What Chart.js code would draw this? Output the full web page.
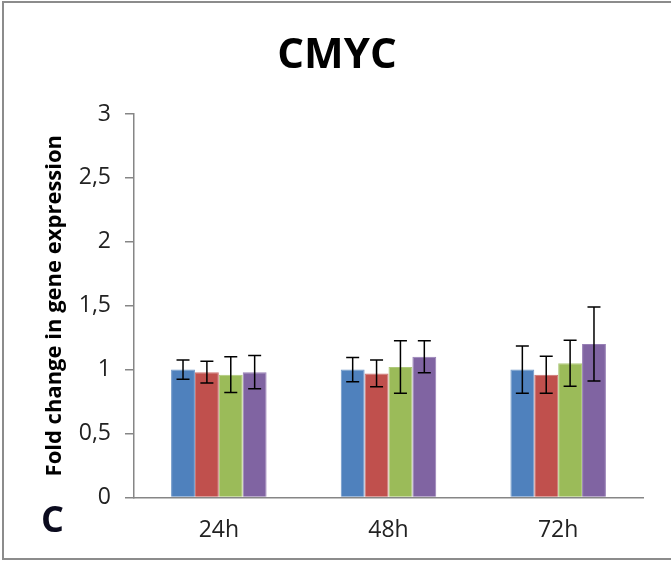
<!DOCTYPE html>
<html>
<head>
<meta charset="utf-8">
<script src="https://cdn.jsdelivr.net/npm/chart.js@4"></script>
<style>
  html, body { margin: 0; padding: 0; background: #fff; }
  #wrap { position: relative; width: 671px; height: 564px; overflow: hidden; }
  #frame { position: absolute; left: 2px; top: 1px; width: 690px; height: 559px; border: 2px solid #8c8c8c; box-sizing: border-box; }
  canvas { position: absolute; left: 0; top: 0; }
  #panel { position: absolute; left: 41px; top: 501px; font: bold 36px "Open Sans", sans-serif; color: #0b0b1e; line-height: 1; }
</style>
</head>
<body>
<div id="wrap">
  <div id="frame"></div>
  <canvas id="c" width="671" height="564"></canvas>
  <div id="panel">C</div>
</div>
<script>
const categories = ["24h", "48h", "72h"];
const seriesNames = ["Series 1", "Series 2", "Series 3", "Series 4"];
const series1 = [1.00, 1.00, 1.00];
const series2 = [0.98, 0.97, 0.96];
const series3 = [0.96, 1.02, 1.05];
const series4 = [0.98, 1.10, 1.20];
const err1 = [0.075, 0.095, 0.185];
const err2 = [0.085, 0.105, 0.145];
const err3 = [0.14, 0.205, 0.18];
const err4 = [0.13, 0.125, 0.29];
const yTicks = [0, 0.5, 1, 1.5, 2, 2.5, 3];

const colors = ["#4F81BD", "#C0504D", "#9BBB59", "#8064A2"];
const borders = ["#6f97c8", "#cc7270", "#aec97a", "#977fb5"];
const values = [series1, series2, series3, series4];
const errors = [err1, err2, err3, err4];

const errorBars = {
  id: "errorBars",
  afterDatasetsDraw(chart) {
    const ctx = chart.ctx;
    const y = chart.scales.y;
    ctx.save();
    ctx.strokeStyle = "#000";
    ctx.lineWidth = 1.5;
    chart.data.datasets.forEach((ds, i) => {
      const meta = chart.getDatasetMeta(i);
      meta.data.forEach((bar, j) => {
        const v = ds.data[j], e = errors[i][j];
        const top = y.getPixelForValue(v + e);
        const bot = y.getPixelForValue(v - e);
        const x = bar.x, hw = 6.5;
        ctx.beginPath();
        ctx.moveTo(x, top); ctx.lineTo(x, bot);
        ctx.moveTo(x - hw, top); ctx.lineTo(x + hw, top);
        ctx.moveTo(x - hw, bot); ctx.lineTo(x + hw, bot);
        ctx.stroke();
      });
    });
    ctx.restore();
  }
};

new Chart(document.getElementById("c"), {
  type: "bar",
  data: {
    labels: categories,
    datasets: values.map((v, i) => ({
      label: seriesNames[i],
      data: v,
      backgroundColor: colors[i],
      borderColor: borders[i],
      borderWidth: 1,
      categoryPercentage: 0.563,
      barPercentage: 1
    }))
  },
  options: {
    responsive: false,
    animation: false,
    layout: { padding: { left: 31, right: 28, top: 0, bottom: 1 } },
    plugins: {
      legend: { display: false },
      tooltip: { enabled: false },
      title: {
        display: true,
        text: "CMYC",
        color: "#000",
        font: { family: "Open Sans", size: 42, weight: "bold", lineHeight: 1.2 },
        padding: { top: 31, bottom: 32.6 }
      }
    },
    scales: {
      x: {
        grid: { display: false, drawTicks: false },
        border: { display: true, color: "#868686", width: 1.5 },
        ticks: { color: "#222", font: { family: "Open Sans", size: 23 }, padding: 19 }
      },
      y: {
        min: 0, max: 3,
        afterBuildTicks(scale) { scale.ticks = yTicks.map(v => ({ value: v })); },
        afterFit(scale) { scale.width = 103; },
        grid: { drawOnChartArea: false, drawTicks: true, tickLength: 9, color: "#868686", lineWidth: 1.5 },
        border: { display: true, color: "#868686", width: 1.5 },
        ticks: {
          color: "#222",
          font: { family: "Open Sans", size: 23 },
          padding: 14,
          callback: v => String(v).replace(".", ",")
        },
        title: {
          display: true,
          text: "Fold change in gene expression",
          color: "#000",
          font: { family: "Open Sans", size: 22, weight: "bold", lineHeight: 1.2 },
          padding: { top: 11, bottom: 0 }
        }
      }
    }
  },
  plugins: [errorBars]
});
</script>
</body>
</html>
